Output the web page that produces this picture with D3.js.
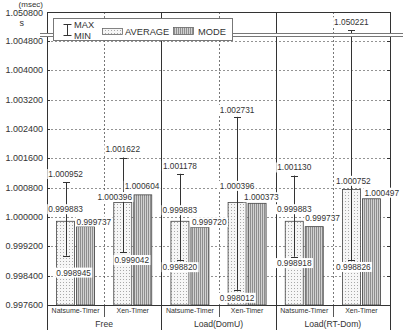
<!DOCTYPE html>
<html><head><meta charset="utf-8">
<script src="https://cdn.jsdelivr.net/npm/d3@7"></script>
<style>html,body{margin:0;padding:0;background:#fff;}svg{display:block;font-family:"Liberation Sans",Arial,Helvetica,sans-serif;}</style>
</head><body>
<script>
// ---- data ----
const groups = ["Free", "Load(DomU)", "Load(RT-Dom)"];
const timers = ["Natsume-Timer", "Xen-Timer"];
const maxVals  = [1.000952, 1.001622, 1.001178, 1.002731, 1.001130, 1.050221];
const avgVals  = [0.999883, 1.000396, 0.999883, 1.000396, 0.999883, 1.000752];
const minVals  = [0.998945, 0.999042, 0.998820, 0.998012, 0.998918, 0.998826];
const modeVals = [0.999737, 1.000604, 0.999720, 1.000373, 0.999737, 1.000497];
const lowerTicks = ["0.997600","0.998400","0.999200","1.000000","1.000800","1.001600","1.002400","1.003200","1.004000","1.004800"];
const upperTicks = ["1.050800"];
const unitLabel = "(msec)";

// ---- layout (label nudges, px) ----
const maxDy  = [-8, -8, -8, -7, -8, -8];
const avgDy  = [-12, -5.5, -11, -16.5, -12, -8.5];
const avgDx  = [0, -8, 0, 0, 0, 2];
const modeDy = [-5, -9, -5, -6, -8.5, -6];
const modeDx = [0, -9, 1, -4, 0, 2];
const minDy  = [17, 8, 7, 8, 6.5, 7];
const minDx  = [8, 9, 0, 0, 0, 2];

const W = 403, H = 330;
const L = 47, R = 390, T = 12, B = 305, breakTop = 33, breakBot = 36;

const svg = d3.select("body").append("svg").attr("width", W).attr("height", H);
const defs = svg.append("defs");
const pA = defs.append("pattern").attr("id","pAvg").attr("patternUnits","userSpaceOnUse").attr("width",3).attr("height",3);
pA.append("rect").attr("width",3).attr("height",3).attr("fill","#f6f6f6");
pA.append("rect").attr("x",0).attr("y",0).attr("width",1).attr("height",1).attr("fill","#a8a8a8");
const pM = defs.append("pattern").attr("id","pMode").attr("patternUnits","userSpaceOnUse").attr("width",2).attr("height",2);
pM.append("rect").attr("width",2).attr("height",2).attr("fill","#d2d2d2");
pM.append("rect").attr("width",1).attr("height",2).attr("fill","#8e8e8e");

const yLow = d3.scaleLinear().domain([+lowerTicks[0], +lowerTicks[lowerTicks.length-1]]).range([B, 41]);
const yHigh = d3.scaleLinear().domain([1.0501, +upperTicks[0]]).range([34, T]);
const y = v => v > 1.02 ? yHigh(v) : yLow(v);

const subKeys = [];
groups.forEach(g => timers.forEach(t => subKeys.push(g + "|" + t)));
const xSub = d3.scaleBand().domain(subKeys).range([L, R]);
const xGroup = d3.scaleBand().domain(groups).range([L, R]);
const barScale = (i) => {
  const c = xSub(subKeys[i]) + xSub.bandwidth()/2;
  return d3.scaleBand().domain(["AVERAGE","MODE"]).range([c-19, c+19]).paddingInner(0.1);
};

// gridlines (lower segment)
const gGrid = svg.append("g");
lowerTicks.forEach(t => {
  const yy = Math.round(yLow(+t)) + 0.5;
  if (yy > B - 1) return;
  gGrid.append("line").attr("x1", L).attr("x2", R).attr("y1", yy).attr("y2", yy)
    .attr("stroke", "#777").attr("stroke-dasharray", "2,2").attr("stroke-width", 0.8);
});
// sub dividers (dotted)
subKeys.forEach((k, i) => {
  if (i % 2 === 1) {
    const xx = Math.round(xSub(k)) + 0.5;
    svg.append("line").attr("x1", xx).attr("x2", xx).attr("y1", T).attr("y2", B)
      .attr("stroke", "#555").attr("stroke-dasharray", "2,2").attr("stroke-width", 0.8);
    svg.append("line").attr("x1", xx).attr("x2", xx).attr("y1", B).attr("y2", 317)
      .attr("stroke", "#444").attr("stroke-width", 0.9);
  }
});
// group separators + frame verticals
groups.forEach((g, i) => {
  const xx = Math.round(xGroup(g)) + 0.5;
  svg.append("line").attr("x1", xx).attr("x2", xx).attr("y1", T).attr("y2", H)
    .attr("stroke", "#333").attr("stroke-width", 1);
});
svg.append("line").attr("x1", R + 0.5).attr("x2", R + 0.5).attr("y1", T).attr("y2", H).attr("stroke", "#333");
svg.append("line").attr("x1", L).attr("x2", R + 1).attr("y1", T + 0.5).attr("y2", T + 0.5).attr("stroke", "#333");
svg.append("line").attr("x1", L).attr("x2", R + 1).attr("y1", B + 0.5).attr("y2", B + 0.5).attr("stroke", "#333");

// inner ticks
lowerTicks.forEach(t => {
  const yy = Math.round(yLow(+t)) + 0.5;
  svg.append("line").attr("x1", L).attr("x2", L + 3).attr("y1", yy).attr("y2", yy).attr("stroke", "#333");
  svg.append("line").attr("x1", R - 3).attr("x2", R).attr("y1", yy).attr("y2", yy).attr("stroke", "#333");
});

// bars
const gBars = svg.append("g");
subKeys.forEach((k, i) => {
  const bs = barScale(i);
  gBars.append("rect").attr("x", bs("AVERAGE")).attr("y", y(avgVals[i]))
    .attr("width", bs.bandwidth()).attr("height", B - y(avgVals[i]))
    .attr("fill", "url(#pAvg)").attr("stroke", "#444").attr("stroke-width", 0.8);
  gBars.append("rect").attr("x", bs("MODE")).attr("y", y(modeVals[i]))
    .attr("width", bs.bandwidth()).attr("height", B - y(modeVals[i]))
    .attr("fill", "url(#pMode)").attr("stroke", "#444").attr("stroke-width", 0.8);
});

// whiskers
subKeys.forEach((k, i) => {
  const bs = barScale(i);
  const cx = Math.round(bs("AVERAGE") + bs.bandwidth()/2) + 0.5;
  const y1 = y(maxVals[i]), y2 = y(minVals[i]);
  gBars.append("line").attr("x1", cx).attr("x2", cx).attr("y1", y1).attr("y2", y2).attr("stroke", "#333").attr("stroke-width", 1);
  [y1, y2].forEach(yy => gBars.append("line").attr("x1", cx - 3.5).attr("x2", cx + 3.5)
    .attr("y1", Math.round(yy) + 0.5).attr("y2", Math.round(yy) + 0.5).attr("stroke", "#333").attr("stroke-width", 1));
});

// break marks
const gBreak = svg.append("g");
gBreak.append("rect").attr("x", 40).attr("y", breakTop).attr("width", W - 40).attr("height", breakBot - breakTop).attr("fill", "#fff");
[breakTop, breakBot].forEach(yy => gBreak.append("line").attr("x1", 40).attr("x2", W).attr("y1", yy + 0.5).attr("y2", yy + 0.5)
  .attr("stroke", "#777").attr("stroke-width", 1));

// value labels
const gLab = svg.append("g").attr("font-size", 8.3).attr("fill", "#333");
function label(txt, x, yc, anchor) {
  const t = gLab.append("text").attr("x", x).attr("y", yc).attr("dy", "0.35em").attr("text-anchor", anchor).attr("fill", "#333").text(txt);
  const bb = t.node().getBBox();
  gLab.insert("rect", () => t.node()).attr("x", bb.x - 1).attr("y", bb.y).attr("width", bb.width + 2).attr("height", bb.height).attr("fill", "#fff");
}
const fmt = d3.format(".6f");
subKeys.forEach((k, i) => {
  const bs = barScale(i);
  const cx = bs("AVERAGE") + bs.bandwidth()/2;
  label(fmt(maxVals[i]), cx, y(maxVals[i]) + maxDy[i], "middle");
  label(fmt(avgVals[i]), cx + avgDx[i], y(avgVals[i]) + avgDy[i], "middle");
  label(fmt(modeVals[i]), bs("MODE") + modeDx[i], y(modeVals[i]) + modeDy[i], "start");
  label(fmt(minVals[i]), cx + minDx[i], y(minVals[i]) + minDy[i], "middle");
});

// y tick labels
const gY = svg.append("g").attr("font-size", 9).attr("fill", "#333").attr("text-anchor", "end");
lowerTicks.forEach(t => gY.append("text").attr("x", 43).attr("y", yLow(+t)).attr("dy", "0.35em").text(t));
upperTicks.forEach(t => gY.append("text").attr("x", 43).attr("y", yHigh(+t) + 1).attr("dy", "0.35em").text(t));
gY.append("text").attr("x", 43).attr("y", 7).attr("font-size", 8).text(unitLabel);
gY.append("text").attr("x", 24).attr("y", 26).text("s");

// x labels
const gX = svg.append("g").attr("fill", "#333").attr("text-anchor", "middle");
subKeys.forEach((k, i) => gX.append("text").attr("x", xSub(k) + xSub.bandwidth()/2).attr("y", 311).attr("dy", "0.35em")
  .attr("font-size", 7).text(timers[i % 2]));
groups.forEach(g => gX.append("text").attr("x", xGroup(g) + xGroup.bandwidth()/2).attr("y", 323.5).attr("dy", "0.35em")
  .attr("font-size", 8.6).text(g));

// legend
const lg = svg.append("g");
lg.append("rect").attr("x", 53.5).attr("y", 18.5).attr("width", 179).attr("height", 22).attr("fill", "#fff").attr("stroke", "#777");
lg.append("line").attr("x1", 67.5).attr("x2", 67.5).attr("y1", 24).attr("y2", 36).attr("stroke", "#333");
lg.append("line").attr("x1", 63.5).attr("x2", 71.5).attr("y1", 24.5).attr("y2", 24.5).attr("stroke", "#333");
lg.append("line").attr("x1", 63.5).attr("x2", 71.5).attr("y1", 35.5).attr("y2", 35.5).attr("stroke", "#333");
const lt = lg.append("g").attr("font-size", 9.3).attr("fill", "#333");
lt.append("text").attr("x", 74).attr("y", 25).attr("dy", "0.35em").text("MAX");
lt.append("text").attr("x", 74).attr("y", 36).attr("dy", "0.35em").text("MIN");
lg.append("rect").attr("x", 102.5).attr("y", 28.5).attr("width", 20).attr("height", 6).attr("fill", "url(#pAvg)").attr("stroke", "#666").attr("stroke-width", 0.8);
lt.append("text").attr("x", 125).attr("y", 31.5).attr("dy", "0.35em").text("AVERAGE");
lg.append("rect").attr("x", 173.5).attr("y", 27.5).attr("width", 20).attr("height", 7).attr("fill", "url(#pMode)").attr("stroke", "#666").attr("stroke-width", 0.8);
lt.append("text").attr("x", 198).attr("y", 31.5).attr("dy", "0.35em").text("MODE");
</script>
</body></html>
